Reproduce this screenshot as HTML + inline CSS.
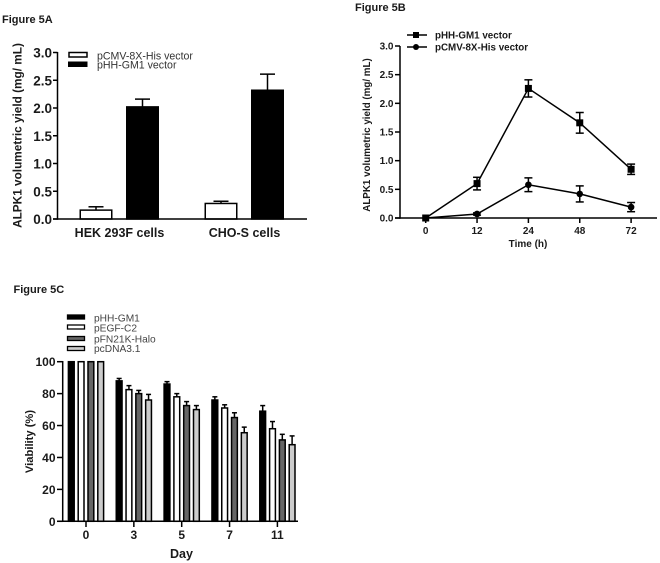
<!DOCTYPE html>
<html>
<head>
<meta charset="utf-8">
<style>
html,body{margin:0;padding:0;background:#fff;width:660px;height:563px;overflow:hidden}
svg{display:block;font-family:"Liberation Sans",Arial,sans-serif;filter:blur(0.3px)}
text{fill:#1a1a1a}
.t{font-weight:bold;font-size:11px}
</style>
</head>
<body>
<svg id="fig" width="660" height="563" viewBox="0 0 660 563" xmlns="http://www.w3.org/2000/svg">
  <text class="t" x="2" y="23">Figure 5A</text>
  <text class="t" x="355" y="11">Figure 5B</text>
  <text class="t" x="13.5" y="293">Figure 5C</text>

  <text transform="translate(21.5,135.5) rotate(-90)" text-anchor="middle" font-size="11.8" font-weight="bold">ALPK1 volumetric yield (mg/ mL)</text>
  <text transform="translate(370,135) rotate(-90)" text-anchor="middle" font-size="9.8" font-weight="bold">ALPK1 volumetric yield (mg/ mL)</text>
  <text x="528" y="247" text-anchor="middle" font-size="10" font-weight="bold">Time (h)</text>
  <text transform="translate(33,441.5) rotate(-90)" text-anchor="middle" font-size="11.2" font-weight="bold">Viability (%)</text>
  <text x="181.5" y="558" text-anchor="middle" font-size="12.5" font-weight="bold">Day</text>

  <g>
    <rect x="69" y="52.5" width="18" height="4.5" fill="#fff" stroke="#000" stroke-width="1.5"/>
    <rect x="68" y="61.5" width="19.5" height="5.5" fill="#000"/>
    <text x="97" y="59.5" font-size="10.6" style="fill:#333">pCMV-8X-His vector</text>
    <text x="97" y="68.5" font-size="10.6" style="fill:#333">pHH-GM1 vector</text>
  </g>

  <g>
    <line x1="407" y1="35" x2="427" y2="35" stroke="#000" stroke-width="1.5"/>
    <rect x="413" y="32" width="6" height="6" fill="#000"/>
    <text x="435" y="38.5" font-size="9.8" font-weight="bold">pHH-GM1 vector</text>
    <line x1="407" y1="47" x2="427" y2="47" stroke="#000" stroke-width="1.5"/>
    <circle cx="416" cy="47" r="3" fill="#000"/>
    <text x="435" y="50.5" font-size="9.8" font-weight="bold">pCMV-8X-His vector</text>
  </g>

  <g stroke="#000" stroke-width="1.3">
    <rect x="67.5" y="315" width="17" height="4" fill="#000"/>
    <rect x="67.5" y="325" width="17" height="4" fill="#fff"/>
    <rect x="67.5" y="336.5" width="17" height="4" fill="#666"/>
    <rect x="67.5" y="346.5" width="17" height="4" fill="#ccc"/>
  </g>
  <text x="94" y="321.5" font-size="10.2" style="fill:#444">pHH-GM1</text>
  <text x="94" y="331.5" font-size="10.2" style="fill:#444">pEGF-C2</text>
  <text x="94" y="342.5" font-size="10.2" style="fill:#444">pFN21K-Halo</text>
  <text x="94" y="352" font-size="10.2" style="fill:#444">pcDNA3.1</text>
</svg>
<script>
// Panel A data
var aCategories = ['HEK 293F cells', 'CHO-S cells'];
var aPcmv = [0.16, 0.28];
var aPcmvErr = [0.06, 0.04];
var aPhh = [2.02, 2.32];
var aPhhErr = [0.14, 0.29];
var aTicks = ['0.0', '0.5', '1.0', '1.5', '2.0', '2.5', '3.0'];

// Panel B data
var bTimes = ['0', '12', '24', '48', '72'];
var bPhh = [0, 0.6, 2.26, 1.66, 0.85];
var bPhhErr = [0, 0.11, 0.15, 0.18, 0.09];
var bPcmv = [0, 0.07, 0.58, 0.42, 0.19];
var bPcmvErr = [0, 0.02, 0.12, 0.14, 0.08];
var bTicks = ['0.0', '0.5', '1.0', '1.5', '2.0', '2.5', '3.0'];

// Panel C data
var cDays = ['0', '3', '5', '7', '11'];
var cPhh = [100, 88, 86, 76, 69];
var cPhhErr = [0, 1.5, 1.5, 2, 3.5];
var cPegf = [100, 82.5, 78, 71, 58];
var cPegfErr = [0, 2.5, 2, 2, 4.5];
var cPfn = [100, 80, 72.5, 65, 51];
var cPfnErr = [0, 2, 2.5, 3, 3.5];
var cPcdna = [100, 76, 70, 55.5, 48];
var cPcdnaErr = [0, 3.5, 2.5, 3.5, 5.5];
var cTicks = ['0', '20', '40', '60', '80', '100'];

var svg = document.getElementById('fig');
function mk(tag, attrs, parent) {
  var el = document.createElementNS('http://www.w3.org/2000/svg', tag);
  for (var k in attrs) { el.setAttribute(k, attrs[k]); }
  (parent || svg).appendChild(el);
  return el;
}
function seg(x1, y1, x2, y2, w, name) {
  var el = mk('line', {x1: x1, y1: y1, x2: x2, y2: y2, stroke: '#000', 'stroke-width': w});
  
  
  return el;
}
function label(str, x, y, size, anchor, name) {
  var el = mk('text', {x: x, y: y, 'font-size': size, 'font-weight': 'bold', 'text-anchor': anchor});
  el.textContent = str;
  
  
  return el;
}
function box(x, y, w, h, fill, stroke, name) {
  var el = mk('rect', {x: x, y: y, width: w, height: h, fill: fill, stroke: stroke, 'stroke-width': 1.5});
  
  
  return el;
}

/* ---------- Panel A ---------- */
function ayA(v) { return 219 - v * (219 - 52.5) / 3; }
var aCenters = [119.5, 244.5];
function drawBarA(cx, off, v, e, fill, name) {
  var w = 31.5, x = cx + off - w / 2;
  seg(cx + off, ayA(v), cx + off, ayA(v + e), 1.5, name + '-error');
  seg(cx + off - 7.5, ayA(v + e), cx + off + 7.5, ayA(v + e), 1.5, name + '-error-cap');
  box(x, ayA(v), w, 219 - ayA(v), fill, '#000', name);
}
aCategories.forEach(function (c, i) {
  drawBarA(aCenters[i], -23.5, aPcmv[i], aPcmvErr[i], '#fff', 'a-bar-pcmv-' + i);
  drawBarA(aCenters[i], 23, aPhh[i], aPhhErr[i], '#000', 'a-bar-phh-' + i);
  label(c, aCenters[i], 237, 12.5, 'middle', 'a-x-label-' + i);
});
seg(57.5, 52, 57.5, 219.8, 1.5, 'a-y-axis');
seg(53, 219, 307, 219, 1.5, 'a-x-axis');
aTicks.forEach(function (t) {
  var y = ayA(parseFloat(t));
  seg(53, y, 57.5, y, 1.5, 'a-y-tick-' + t);
  label(t, 52, y + 5, 13.5, 'end', 'a-y-label-' + t);
});

/* ---------- Panel B ---------- */
function ayB(v) { return 218 - v * (218 - 46) / 3; }
function axB(i) { return 425.7 + i * 51.35; }
seg(400, 46, 400, 218.7, 1.5, 'b-y-axis');
seg(395, 218, 657, 218, 1.5, 'b-x-axis');
bTicks.forEach(function (t) {
  var y = ayB(parseFloat(t));
  seg(395, y, 400, y, 1.5, 'b-y-tick-' + t);
  label(t, 393.5, y + 3.5, 10, 'end', 'b-y-label-' + t);
});
bTimes.forEach(function (t, i) {
  seg(axB(i), 218, axB(i), 223, 1.5, 'b-x-tick-' + t);
  label(t, axB(i), 234, 10, 'middle', 'b-x-label-' + t);
});
function drawSeries(vals, errs, kind) {
  var pts = vals.map(function (v, i) { return axB(i) + ',' + ayB(v); }).join(' ');
  var line = mk('polyline', {points: pts, fill: 'none', stroke: '#000', 'stroke-width': 1.5});
  
  
  vals.forEach(function (v, i) {
    var x = axB(i), y = ayB(v), e = errs[i];
    if (e > 0) {
      seg(x, ayB(v - e), x, ayB(v + e), 1.5, 'b-error-' + kind + '-' + i);
      seg(x - 4, ayB(v + e), x + 4, ayB(v + e), 1.5, 'b-error-top-' + kind + '-' + i);
      seg(x - 4, ayB(v - e), x + 4, ayB(v - e), 1.5, 'b-error-bottom-' + kind + '-' + i);
    }
    var m;
    if (kind === 'phh') {
      m = mk('rect', {x: x - 3.5, y: y - 3.5, width: 7, height: 7, fill: '#000'});
    } else {
      m = mk('circle', {cx: x, cy: y, r: 3.3, fill: '#000'});
    }
    
    
  });
}
drawSeries(bPhh, bPhhErr, 'phh');
drawSeries(bPcmv, bPcmvErr, 'pcmv');

/* ---------- Panel C ---------- */
function ayC(v) { return 521.3 - v * (521.3 - 361.7) / 100; }
function axC(i) { return 86 + i * 47.85; }
var cSeries = [
  {k: 'phh', v: cPhh, e: cPhhErr, f: '#000', o: -14.7},
  {k: 'pegf', v: cPegf, e: cPegfErr, f: '#fff', o: -4.9},
  {k: 'pfn', v: cPfn, e: cPfnErr, f: '#666', o: 4.9},
  {k: 'pcdna', v: cPcdna, e: cPcdnaErr, f: '#ccc', o: 14.7}
];
cSeries.forEach(function (s) {
  s.v.forEach(function (v, i) {
    var cx = axC(i) + s.o;
    if (s.e[i] > 0) {
      seg(cx, ayC(v), cx, ayC(v + s.e[i]), 1.5, 'c-error-' + s.k + '-' + i);
      seg(cx - 2.5, ayC(v + s.e[i]), cx + 2.5, ayC(v + s.e[i]), 1.5, 'c-error-cap-' + s.k + '-' + i);
    }
    box(cx - 2.9, ayC(v), 5.8, 521.3 - ayC(v), s.f, '#000', 'c-bar-' + s.k + '-' + i);
  });
});
seg(62.7, 361, 62.7, 522, 1.5, 'c-y-axis');
seg(57, 521.3, 298, 521.3, 1.5, 'c-x-axis');
cTicks.forEach(function (t) {
  var y = ayC(parseFloat(t));
  seg(57, y, 62.7, y, 1.5, 'c-y-tick-' + t);
  label(t, 55.5, y + 4.5, 12, 'end', 'c-y-label-' + t);
});
cDays.forEach(function (t, i) {
  seg(axC(i), 521.3, axC(i), 527, 1.5, 'c-x-tick-' + t);
  label(t, axC(i), 539, 12, 'middle', 'c-x-label-' + t);
});
</script>
</body>
</html>
